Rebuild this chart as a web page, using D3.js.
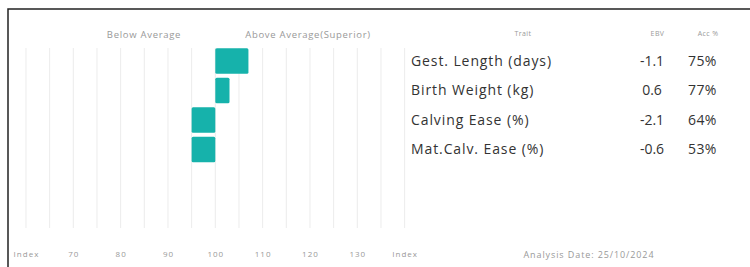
<!DOCTYPE html>
<html>
<head>
<meta charset="utf-8">
<script src="https://cdn.jsdelivr.net/npm/d3@7"></script>
<style>
  html, body { margin: 0; padding: 0; background: #fff; }
  svg { display: block; }
  text { font-family: "Open Sans", sans-serif; }
</style>
</head>
<body>
<svg id="chart" width="750" height="267"></svg>
<script>
const traits = ["Gest. Length (days)", "Birth Weight (kg)", "Calving Ease (%)", "Mat.Calv. Ease (%)"];
const indexValues = [107, 103, 95, 95];
const ebvValues = ["-1.1", "0.6", "-2.1", "-0.6"];
const accValues = ["75%", "77%", "64%", "53%"];
const tickValues = [60, 70, 80, 90, 100, 110, 120, 130, 140];
const tickLabels = ["Index", "70", "80", "90", "100", "110", "120", "130", "Index"];
const gridValues = d3.range(60, 141, 5);
const headerLabels = ["Trait", "EBV", "Acc %"];
const zoneLabels = ["Below Average", "Above Average(Superior)"];
const analysisDate = "Analysis Date: 25/10/2024";

const svg = d3.select("#chart");
const teal = "#16b2ab";

// frame (top and left edges visible)
svg.append("rect")
  .attr("x", 8).attr("y", 9)
  .attr("width", 800).attr("height", 300)
  .attr("fill", "none").attr("stroke", "#222").attr("stroke-width", 1.5);

const x = d3.scaleLinear().domain([70, 100]).range([73.3, 215.3]);
const y = d3.scaleBand().domain(traits)
  .range([46.3, 46.3 + 4 * 29.5])
  .paddingInner(0.135).paddingOuter(0.0675);

const gridTop = 48, gridBottom = 228;

// gridlines
svg.append("g").selectAll("line").data(gridValues).join("line")
  .attr("x1", d => x(d)).attr("x2", d => x(d))
  .attr("y1", gridTop).attr("y2", gridBottom)
  .attr("stroke", "#ececec").attr("stroke-width", 1);

// bars
svg.append("g").selectAll("rect").data(traits).join("rect")
  .attr("x", (d, i) => x(Math.min(100, indexValues[i])))
  .attr("y", d => y(d))
  .attr("width", (d, i) => Math.abs(x(indexValues[i]) - x(100)))
  .attr("height", y.bandwidth())
  .attr("rx", 1.5)
  .attr("fill", teal);

// axis labels (bottom)
const axis = d3.axisBottom(x).tickValues(tickValues)
  .tickFormat((d, i) => tickLabels[i]).tickSize(0).tickPadding(0);
const ax = svg.append("g").attr("transform", `translate(0, 251)`).call(axis);
ax.select(".domain").remove();
ax.selectAll("text").attr("fill", "#999").attr("font-size", 8)
  .attr("letter-spacing", "1px")
  .attr("font-family", "Open Sans, sans-serif");

// zone labels
svg.append("text").attr("x", 144).attr("y", 38)
  .attr("text-anchor", "middle").attr("font-size", 9.5).attr("fill", "#999")
  .attr("letter-spacing", "0.7px")
  .text(zoneLabels[0]);
svg.append("text").attr("x", 308).attr("y", 38)
  .attr("text-anchor", "middle").attr("font-size", 9.5).attr("fill", "#999")
  .attr("letter-spacing", "0.7px")
  .text(zoneLabels[1]);

// table headers
const headerX = [523, 657.5, 708];
svg.append("g").selectAll("text").data(headerLabels).join("text")
  .attr("x", (d, i) => headerX[i]).attr("y", 36)
  .attr("text-anchor", "middle").attr("font-size", 7).attr("fill", "#999")
  .attr("letter-spacing", "0.4px")
  .text(d => d);

// table rows
const rows = svg.append("g");
rows.selectAll("text.trait").data(traits).join("text")
  .attr("class", "trait")
  .attr("x", 411).attr("y", d => y(d) + y.bandwidth() / 2)
  .attr("dy", "0.35em").attr("font-size", 14).attr("fill", "#333")
  .attr("letter-spacing", "0.9px")
  .text(d => d);
rows.selectAll("text.ebv").data(traits).join("text")
  .attr("class", "ebv")
  .attr("x", 652).attr("y", d => y(d) + y.bandwidth() / 2)
  .attr("dy", "0.35em").attr("font-size", 14).attr("fill", "#333")
  .attr("text-anchor", "middle")
  .text((d, i) => ebvValues[i]);
rows.selectAll("text.acc").data(traits).join("text")
  .attr("class", "acc")
  .attr("x", 688).attr("y", d => y(d) + y.bandwidth() / 2)
  .attr("dy", "0.35em").attr("font-size", 14).attr("fill", "#333")
  .attr("letter-spacing", "0.4px")
  .text((d, i) => accValues[i]);

// analysis date
svg.append("text").attr("x", 589).attr("y", 258)
  .attr("text-anchor", "middle").attr("font-size", 9).attr("fill", "#999")
  .attr("letter-spacing", "0.9px")
  .text(analysisDate);
</script>
</body>
</html>
